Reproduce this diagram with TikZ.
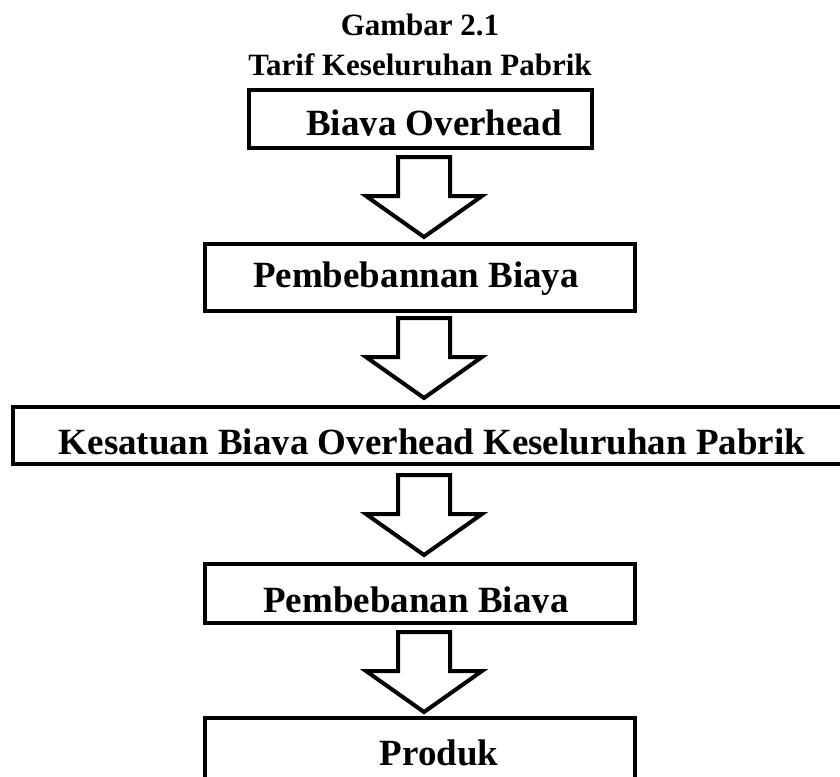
\documentclass[tikz,border=0pt]{standalone}
\usepackage{fontspec}
\setmainfont{Liberation Serif}
\begin{document}
\begin{tikzpicture}[x=1pt,y=-1pt,
  box/.style={draw=black, line width=4.5pt, fill=white, inner sep=0pt},
  lbl/.style={font=\fontsize{37}{40}\selectfont\bfseries, anchor=base, inner sep=0pt},
  ttl/.style={font=\fontsize{31}{34}\selectfont\bfseries, anchor=base, inner sep=0pt},
  barrow/.style={draw=black, line width=4pt, fill=white, line join=miter},
  blockarr/.pic={\draw[barrow] (-26,0) -- (26,0) -- (26,39) -- (58,39) -- (0,80) -- (-58,39) -- (-26,39) -- cycle;}]
\clip (0,0) rectangle (840,776);
\fill[white] (0,0) rectangle (840,776);
% title
\node[ttl] (t1) at (420,36) {Gambar 2.1};
\node[ttl] (t2) at (420,75) {Tarif Keseluruhan Pabrik};
% boxes
\node[box, minimum width=343pt, minimum height=58pt] (b1) at (420.5,119) {};
\node[box, minimum width=430pt, minimum height=67pt] (b2) at (420,277.5) {};
\node[box, minimum width=840pt, minimum height=57pt] (b3) at (433,435.5) {};
\node[box, minimum width=430pt, minimum height=59pt] (b4) at (420,593.5) {};
\node[box, minimum width=430pt, minimum height=120pt] (b5) at (420,778) {};
% labels (clipped just below the baseline, as in the source)
\begin{scope}
\clip (0,93) rectangle (840,135.8);
\node[lbl] (l1) at (434,135) {Biaya Overhead};
\end{scope}
\node[lbl] (l2) at (416,287) {Pembebannan Biaya};
\begin{scope}
\clip (0,410) rectangle (840,454.8);
\node[lbl] (l3) at (432,454) {Kesatuan Biaya Overhead Keseluruhan Pabrik};
\end{scope}
\begin{scope}
\clip (0,567) rectangle (840,612.8);
\node[lbl] (l4) at (416,612) {Pembebanan Biaya};
\end{scope}
\node[lbl] (l5) at (439,765) {Produk};
% block arrows
\pic at (424,157) {blockarr};
\pic at (424,318) {blockarr};
\pic at (424,475) {blockarr};
\pic at (424,632) {blockarr};
\end{tikzpicture}
\end{document}
